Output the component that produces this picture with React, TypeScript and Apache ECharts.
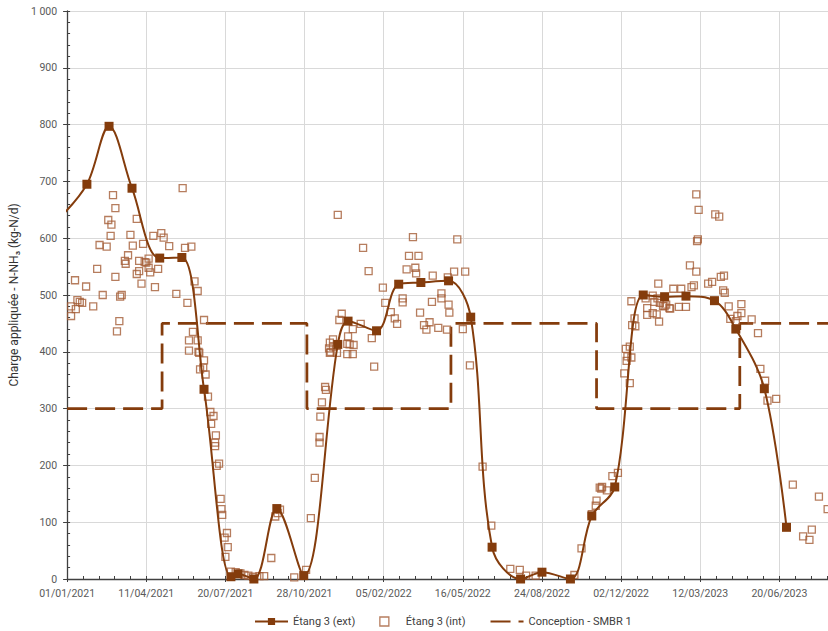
import React, { useEffect, useRef } from "react";
import * as echarts from "echarts";

// x values are days since 01/01/2021
const X_TICK_INTERVAL = 100;

const EXT_DAYS = [-12, 25, 53, 82, 117, 145, 173, 207, 216, 236, 265, 299, 342, 355, 391, 419, 447, 482, 510, 537, 573, 600, 636, 663, 692, 728, 755, 782, 818, 845, 881, 909];
const EXT_VALUES = [632, 695, 797, 688, 565, 566, 334, 4, 9, 0, 124, 6, 413, 454, 437, 519, 522, 525, 461, 56, 0, 12, 0, 111, 162, 500, 497, 498, 490, 440, 335, 91];

const INT_POINTS: [number, number][] = [
  [5, 480], [5, 463], [10, 526], [11, 475], [13, 491], [16, 488], [19, 486], [24, 515], [33, 480], [38, 546],
  [41, 588], [45, 500], [50, 585], [52, 632], [55, 604], [56, 624], [58, 676], [61, 653], [61, 532], [63, 436],
  [66, 454], [67, 497], [69, 500], [73, 560], [74, 555], [77, 570], [80, 606], [83, 587], [88, 634], [88, 537],
  [91, 560], [91, 542], [94, 520], [96, 590], [98, 558], [100, 557], [103, 564], [103, 548], [105, 540], [109, 604],
  [111, 514], [115, 546], [119, 609], [122, 601], [129, 586], [138, 502], [146, 688], [149, 583], [152, 486], [154, 420],
  [154, 402], [157, 585], [159, 435], [161, 524], [165, 507], [165, 420], [166, 400], [167, 398], [168, 369], [172, 372],
  [173, 385], [173, 456], [175, 360], [178, 321], [181, 294], [182, 273], [185, 287], [187, 240], [187, 234], [188, 253],
  [189, 199], [192, 203], [194, 141], [195, 123], [196, 113], [199, 73], [200, 39], [202, 81], [203, 56],
  [207, 13], [213, 12], [219, 10], [224, 7], [229, 6], [235, 4], [243, 5], [249, 5],
  [258, 37], [263, 110], [266, 116], [269, 122], [287, 3], [302, 16], [308, 107], [313, 178], [319, 240], [319, 250],
  [320, 286], [322, 311], [326, 338], [327, 333], [331, 406], [332, 398],
  [332, 416], [333, 400], [336, 422], [336, 409], [341, 398], [342, 641], [344, 456], [347, 467], [354, 414], [354, 396],
  [355, 427], [357, 413], [361, 396], [361, 440], [362, 412], [371, 449], [374, 583], [381, 542], [385, 424], [388, 374],
  [399, 513], [402, 486], [409, 470], [414, 459], [417, 449], [424, 494], [424, 487], [429, 545], [432, 569], [437, 602],
  [440, 548], [441, 538], [444, 569], [446, 469], [451, 447], [454, 439], [458, 452], [461, 488], [462, 534], [469, 442],
  [473, 503], [473, 494], [480, 439], [481, 531], [482, 483], [483, 469], [489, 541], [493, 598], [500, 440], [503, 541],
  [509, 376], [525, 198], [536, 94], [560, 18], [572, 16], [580, 6], [592, 6], [641, 7], [650, 54],
  [663, 114], [668, 129], [669, 138], [673, 161], [675, 159], [676, 162], [682, 156], [689, 181], [696, 187], [704, 362],
  [706, 405], [707, 384], [708, 392], [711, 345], [711, 409], [713, 390], [713, 489], [714, 447], [717, 459], [718, 445],
  [731, 494], [733, 465], [733, 477], [740, 499], [740, 468], [742, 488], [745, 466], [746, 494], [747, 520], [748, 453],
  [749, 486], [753, 481], [755, 480], [757, 483], [761, 477], [762, 476], [766, 511], [773, 479], [776, 511], [782, 479],
  [787, 552], [789, 514], [792, 517], [795, 541], [795, 677], [796, 595], [797, 598], [798, 650], [810, 520], [815, 523],
  [819, 642], [824, 638], [826, 532], [829, 508], [830, 534], [831, 504], [836, 480], [838, 458], [845, 454], [847, 463],
  [852, 468], [852, 484], [865, 457], [873, 433], [876, 370], [882, 349], [885, 314], [896, 317], [917, 166], [930, 75],
  [938, 69], [941, 87], [950, 145], [961, 123],
];

const CONCEPTION_DAYS = [0, 120, 120, 303, 303, 485, 485, 669, 669, 850, 850, 1000];
const CONCEPTION_VALUES = [300, 300, 450, 450, 300, 300, 450, 450, 300, 300, 450, 450];

const SERIES_NAMES = ["Étang 3 (ext)", "Étang 3 (int)", "Conception - SMBR 1"];

const BASE = Date.UTC(2021, 0, 1);
function fmtDate(v: number): string {
  const d = new Date(BASE + Math.round(v) * 86400000);
  const dd = String(d.getUTCDate()).padStart(2, "0");
  const mm = String(d.getUTCMonth() + 1).padStart(2, "0");
  return `${dd}/${mm}/${d.getUTCFullYear()}`;
}
function fmtNum(v: number): string {
  return v >= 1000 ? `${Math.floor(v / 1000)} ${String(v % 1000).padStart(3, "0")}` : String(v);
}

const DARK = "#843C0C";
const LIGHT = "#A45C36";
const AXIS = "#404040";
const FONT = "Roboto";

export default function App() {
  const ref = useRef<HTMLDivElement>(null);
  useEffect(() => {
    if (!ref.current) return;
    const chart = echarts.init(ref.current, undefined, { renderer: "svg" });
    const xBase = {
      type: "value" as const,
      min: 0,
      max: 1000,
      interval: X_TICK_INTERVAL,
      position: "bottom" as const,
    };
    const yBase = {
      type: "value" as const,
      min: 0,
      max: 1000,
      interval: 100,
      position: "left" as const,
    };
    chart.setOption({
      animation: false,
      backgroundColor: "#fff",
      textStyle: { fontFamily: FONT },
      grid: { left: 66, top: 11, right: 17.5, bottom: 52, containLabel: false },
      legend: {
        left: 254,
        top: 616,
        padding: 0,
        itemWidth: 33,
        itemHeight: 9,
        itemGap: 24,
        textStyle: { fontFamily: FONT, fontSize: 11, color: "#404040" },
        data: [
          { name: SERIES_NAMES[0] },
          {
            name: SERIES_NAMES[1],
            icon: "path://M0 0H10V10H0Z",
            itemStyle: { color: "rgba(255,255,255,0)", borderColor: LIGHT, borderWidth: 1.3 },
          },
          { name: SERIES_NAMES[2], itemStyle: { opacity: 0 } },
        ],
      },
      xAxis: [
        {
          ...xBase,
          axisLine: { show: true, onZero: false, lineStyle: { color: AXIS, width: 1.3 } },
          axisTick: { show: true, inside: true, length: 3, lineStyle: { color: AXIS } },
          minorTick: { show: true, splitNumber: 5, length: 3, lineStyle: { color: AXIS } },
          splitLine: { show: true, lineStyle: { color: "#D9D9D9", width: 1 } },
          axisLabel: {
            formatter: (v: number) => fmtDate(v),
            fontFamily: FONT,
            fontSize: 10.5,
            color: "#595959",
            margin: 9,
            showMaxLabel: false,
          },
        },
        {
          ...xBase,
          axisLine: { show: false, onZero: false },
          axisTick: { show: true, inside: false, length: 3, lineStyle: { color: AXIS } },
          axisLabel: { show: false },
          splitLine: { show: false },
        },
      ],
      yAxis: [
        {
          ...yBase,
          name: "Charge appliquée - N-NH₃ (kg-N/d)",
          nameLocation: "middle",
          nameGap: 40,
          nameTextStyle: { fontFamily: FONT, fontSize: 12, color: "#333333" },
          axisLine: { show: true, onZero: false, lineStyle: { color: AXIS, width: 1.3 } },
          axisTick: { show: true, inside: true, length: 3, lineStyle: { color: AXIS } },
          minorTick: { show: true, splitNumber: 5, length: 3, lineStyle: { color: AXIS } },
          splitLine: { show: true, lineStyle: { color: "#D9D9D9", width: 1 } },
          axisLabel: {
            formatter: (v: number) => fmtNum(v),
            fontFamily: FONT,
            fontSize: 10.5,
            color: "#595959",
            margin: 10,
          },
        },
        {
          ...yBase,
          axisLine: { show: false, onZero: false },
          axisTick: { show: true, inside: false, length: 4, lineStyle: { color: AXIS } },
          axisLabel: { show: false },
          splitLine: { show: false },
        },
      ],
      series: [
        {
          name: SERIES_NAMES[0],
          type: "line",
          xAxisIndex: 0,
          yAxisIndex: 0,
          data: EXT_DAYS.map((d, i) => [d, EXT_VALUES[i]]),
          smooth: 0.35,
          clip: true,
          symbol: "rect",
          symbolSize: 9,
          showAllSymbol: true,
          lineStyle: { color: DARK, width: 2 },
          itemStyle: { color: DARK },
          z: 4,
        },
        {
          name: SERIES_NAMES[1],
          type: "scatter",
          xAxisIndex: 0,
          yAxisIndex: 0,
          data: INT_POINTS,
          symbol: "rect",
          symbolSize: 7,
          clip: true,
          itemStyle: { color: "rgba(255,255,255,0)", borderColor: LIGHT, borderWidth: 1.3 },
          z: 3,
        },
        {
          name: SERIES_NAMES[2],
          type: "line",
          xAxisIndex: 0,
          yAxisIndex: 0,
          data: CONCEPTION_DAYS.map((d, i) => [d, CONCEPTION_VALUES[i]]),
          symbol: "none",
          clip: true,
          lineStyle: { color: DARK, width: 2.75, type: [20, 8] },
          itemStyle: { color: DARK },
          z: 2,
        },
      ],
    });
    return () => chart.dispose();
  }, []);
  return (
    <div style={{ position: "fixed", left: 0, top: 0, width: 828, height: 631, overflow: "hidden", background: "#fff" }}>
      <div ref={ref} style={{ width: 876, height: 631 }} />
    </div>
  );
}
